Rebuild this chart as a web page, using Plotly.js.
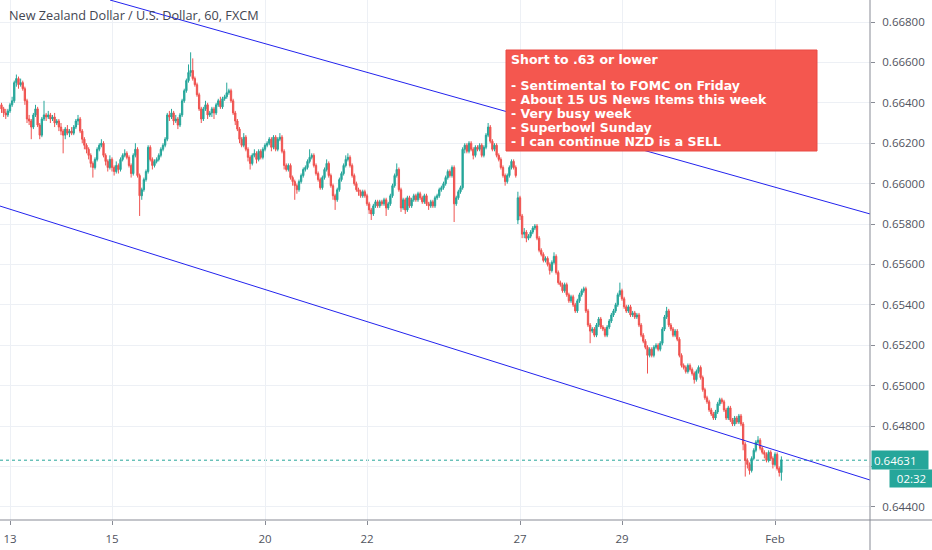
<!DOCTYPE html>
<html>
<head>
<meta charset="utf-8">
<script src="https://cdn.plot.ly/plotly-3.0.1.min.js"></script>
<style>
html,body{margin:0;padding:0;background:#fff;}
#chart{width:932px;height:550px;}
</style>
</head>
<body>
<div id="chart"></div>
<script>
// NZD/USD, 60 min candles (prices in pips: 6637 = 0.6637)
const openPips = [
6639,6637,6635,6634,6636,6639,6641,6650,6652,6649,
6650,6647,6641,6632,6631,6628,6634,6637,6629,6624,
6632,6634,6633,6634,6632,6633,6630,6631,6628,6626,
6624,6627,6625,6626,6625,6628,6631,6632,6626,6622,
6619,6617,6614,6610,6608,6612,6617,6619,6620,6614,
6611,6608,6612,6608,6606,6609,6607,6612,6614,6615,
6613,6609,6605,6614,6617,6604,6594,6597,6602,6606,
6618,6612,6609,6611,6612,6614,6617,6619,6622,6634,
6633,6635,6631,6632,6629,6634,6641,6646,6651,6655,
6656,6652,6649,6644,6637,6632,6637,6639,6634,6635,
6637,6635,6639,6641,6638,6642,6643,6645,6646,6641,
6635,6631,6627,6622,6619,6623,6617,6613,6610,6614,
6615,6612,6616,6613,6617,6619,6620,6622,6618,6623,
6617,6622,6623,6616,6609,6607,6609,6603,6601,6599,
6597,6601,6604,6607,6608,6611,6613,6614,6609,6605,
6602,6598,6603,6607,6610,6604,6599,6594,6592,6597,
6602,6605,6609,6612,6613,6609,6604,6600,6597,6596,
6594,6596,6594,6590,6587,6585,6589,6591,6589,6591,
6590,6592,6588,6590,6594,6599,6604,6607,6597,6588,
6592,6587,6593,6589,6592,6594,6592,6595,6593,6591,
6594,6590,6589,6591,6589,6593,6594,6597,6598,6600,
6603,6606,6604,6608,6590,6593,6596,6598,6617,6619,
6616,6620,6617,6614,6618,6617,6619,6614,6618,6624,
6628,6621,6617,6619,6614,6612,6608,6604,6601,6604,
6608,6611,6608,6582,6593,6584,6575,6576,6573,6574,
6576,6578,6579,6573,6567,6565,6562,6563,6560,6557,
6561,6564,6556,6551,6550,6547,6550,6545,6542,6544,
6540,6537,6542,6545,6547,6548,6537,6530,6527,6528,
6525,6530,6533,6529,6528,6525,6529,6532,6535,6537,
6540,6545,6547,6543,6539,6537,6539,6535,6536,6534,
6535,6530,6525,6522,6519,6515,6518,6515,6519,6520,
6518,6521,6528,6534,6537,6530,6528,6525,6527,6523,
6515,6510,6509,6507,6510,6508,6506,6503,6507,6509,
6504,6498,6494,6492,6488,6486,6484,6487,6491,6493,
6492,6488,6484,6489,6483,6481,6484,6482,6485,6481,
6471,6463,6461,6458,6464,6468,6472,6473,6469,6467,
6466,6463,6467,6464,6461,6466,6459,6457];
const highPips = [
6640,6638,6637,6637,6640,6643,6651,6654,6653,6652,
6651,6648,6642,6634,6632,6635,6639,6638,6630,6633,
6641,6635,6636,6635,6634,6635,6632,6632,6630,6627,
6628,6629,6627,6628,6629,6632,6634,6633,6627,6623,
6620,6618,6615,6611,6613,6618,6620,6622,6621,6615,
6612,6614,6613,6609,6611,6610,6613,6615,6617,6616,
6614,6610,6615,6620,6618,6605,6598,6603,6607,6619,
6619,6613,6612,6613,6615,6618,6620,6623,6635,6636,
6637,6636,6634,6633,6635,6642,6647,6652,6659,6665,
6662,6653,6650,6645,6638,6638,6641,6640,6636,6638,
6638,6640,6642,6643,6643,6644,6650,6647,6647,6642,
6636,6632,6628,6623,6625,6624,6618,6614,6615,6617,
6616,6617,6617,6618,6620,6621,6623,6623,6624,6624,
6623,6625,6624,6617,6610,6610,6610,6604,6602,6600,
6602,6605,6608,6609,6612,6617,6615,6615,6610,6606,
6603,6604,6608,6612,6611,6605,6600,6595,6598,6603,
6606,6610,6614,6615,6614,6610,6605,6601,6598,6597,
6597,6597,6595,6591,6588,6590,6592,6592,6592,6592,
6593,6593,6591,6595,6600,6605,6610,6608,6598,6593,
6593,6594,6594,6593,6595,6595,6596,6596,6594,6595,
6595,6591,6592,6592,6594,6595,6598,6599,6601,6604,
6607,6607,6609,6609,6594,6597,6599,6618,6620,6620,
6621,6621,6618,6619,6619,6620,6620,6619,6625,6630,
6629,6622,6620,6620,6615,6613,6609,6605,6605,6609,
6612,6612,6609,6596,6594,6585,6578,6577,6575,6577,
6579,6580,6580,6574,6568,6566,6564,6564,6561,6562,
6566,6565,6557,6552,6551,6551,6551,6546,6545,6545,
6541,6543,6546,6548,6549,6549,6538,6531,6529,6529,
6531,6534,6534,6530,6529,6530,6533,6536,6538,6541,
6546,6551,6548,6544,6540,6540,6540,6537,6537,6536,
6536,6531,6526,6523,6520,6519,6519,6520,6521,6521,
6522,6529,6535,6539,6538,6531,6529,6528,6528,6524,
6516,6511,6510,6511,6511,6509,6507,6508,6510,6510,
6505,6499,6495,6493,6489,6487,6488,6492,6494,6494,
6493,6489,6490,6490,6484,6485,6485,6486,6486,6482,
6472,6464,6462,6465,6469,6473,6475,6474,6470,6468,
6467,6468,6468,6465,6467,6467,6460,6465];
const lowPips = [
6635,6633,6632,6633,6635,6638,6640,6648,6647,6648,
6646,6639,6630,6629,6622,6627,6633,6628,6622,6623,
6631,6631,6632,6630,6631,6628,6629,6626,6624,6615,
6622,6624,6623,6624,6624,6627,6629,6625,6620,6617,
6615,6612,6608,6603,6607,6611,6616,6618,6613,6609,
6606,6607,6606,6604,6605,6605,6606,6611,6613,6612,
6608,6603,6604,6613,6603,6584,6592,6596,6601,6605,
6611,6607,6608,6610,6611,6613,6616,6618,6621,6631,
6632,6629,6630,6627,6628,6633,6640,6645,6650,6653,
6651,6648,6643,6636,6630,6631,6636,6632,6633,6633,
6632,6634,6638,6637,6637,6641,6642,6644,6640,6634,
6629,6626,6620,6618,6618,6616,6611,6607,6609,6613,
6610,6611,6612,6612,6616,6618,6619,6616,6617,6616,
6616,6621,6615,6607,6606,6606,6602,6599,6592,6595,
6596,6600,6603,6606,6607,6610,6612,6608,6604,6601,
6597,6597,6602,6606,6603,6598,6592,6587,6591,6596,
6601,6604,6608,6611,6608,6603,6599,6596,6594,6593,
6593,6593,6589,6585,6582,6584,6588,6588,6588,6589,
6589,6584,6587,6589,6593,6598,6603,6596,6586,6587,
6585,6586,6588,6588,6591,6591,6591,6592,6590,6590,
6589,6587,6588,6588,6588,6592,6593,6596,6597,6599,
6602,6603,6603,6581,6589,6592,6595,6597,6615,6615,
6615,6616,6612,6613,6616,6616,6613,6613,6617,6623,
6620,6616,6616,6613,6611,6607,6603,6599,6600,6603,
6607,6607,6603,6580,6582,6573,6573,6571,6572,6573,
6575,6577,6572,6566,6564,6561,6561,6559,6555,6556,
6560,6555,6550,6549,6546,6546,6544,6541,6541,6539,
6536,6536,6541,6544,6546,6536,6529,6521,6526,6524,
6524,6529,6528,6527,6524,6524,6528,6531,6534,6536,
6539,6544,6542,6538,6536,6536,6534,6534,6533,6533,
6529,6524,6521,6518,6506,6514,6514,6514,6518,6517,
6517,6520,6527,6533,6529,6527,6524,6524,6522,6514,
6509,6508,6506,6506,6507,6505,6501,6502,6506,6503,
6497,6493,6491,6487,6485,6483,6483,6486,6490,6491,
6487,6483,6483,6482,6480,6480,6481,6481,6480,6468,
6455,6459,6456,6457,6463,6467,6471,6468,6466,6464,
6462,6462,6463,6459,6460,6458,6455,6453];
const closePips = [
6637,6635,6634,6636,6639,6641,6650,6652,6649,6650,
6647,6641,6632,6631,6628,6634,6637,6629,6624,6632,
6634,6633,6634,6632,6633,6630,6631,6628,6626,6624,
6627,6625,6626,6625,6628,6631,6632,6626,6622,6619,
6617,6614,6610,6608,6612,6617,6619,6620,6614,6611,
6608,6612,6608,6606,6609,6607,6612,6614,6615,6613,
6609,6605,6614,6617,6604,6594,6597,6602,6606,6618,
6612,6609,6611,6612,6614,6617,6619,6622,6634,6633,
6635,6631,6632,6629,6634,6641,6646,6651,6655,6656,
6652,6649,6644,6637,6632,6637,6639,6634,6635,6637,
6635,6639,6641,6638,6642,6643,6645,6646,6641,6635,
6631,6627,6622,6619,6623,6617,6613,6610,6614,6615,
6612,6616,6613,6617,6619,6620,6622,6618,6623,6617,
6622,6623,6616,6609,6607,6609,6603,6601,6599,6597,
6601,6604,6607,6608,6611,6613,6614,6609,6605,6602,
6598,6603,6607,6610,6604,6599,6594,6592,6597,6602,
6605,6609,6612,6613,6609,6604,6600,6597,6596,6594,
6596,6594,6590,6587,6585,6589,6591,6589,6591,6590,
6592,6588,6590,6594,6599,6604,6607,6597,6588,6592,
6587,6593,6589,6592,6594,6592,6595,6593,6591,6594,
6590,6589,6591,6589,6593,6594,6597,6598,6600,6603,
6606,6604,6608,6590,6593,6596,6598,6617,6619,6616,
6620,6617,6614,6618,6617,6619,6614,6618,6624,6628,
6621,6617,6619,6614,6612,6608,6604,6601,6604,6608,
6611,6608,6604,6593,6584,6575,6576,6573,6574,6576,
6578,6579,6573,6567,6565,6562,6563,6560,6557,6561,
6564,6556,6551,6550,6547,6550,6545,6542,6544,6540,
6537,6542,6545,6547,6548,6537,6530,6527,6528,6525,
6530,6533,6529,6528,6525,6529,6532,6535,6537,6540,
6545,6547,6543,6539,6537,6539,6535,6536,6534,6535,
6530,6525,6522,6519,6515,6518,6515,6519,6520,6518,
6521,6528,6534,6537,6530,6528,6525,6527,6523,6515,
6510,6509,6507,6510,6508,6506,6503,6507,6509,6504,
6498,6494,6492,6488,6486,6484,6487,6491,6493,6492,
6488,6484,6489,6483,6481,6484,6482,6485,6481,6471,
6463,6461,6458,6464,6468,6472,6473,6469,6467,6466,
6463,6467,6464,6461,6466,6459,6457,6463.1];

// time axis: candle index of each labelled day
const dayTickIndex = [4, 52, 124, 172, 244, 292, 364];
const dayTickText = ['13', '15', '20', '22', '27', '29', 'Feb'];
// price axis ticks
const priceTicks = [0.644, 0.646, 0.648, 0.650, 0.652, 0.654, 0.656, 0.658, 0.660, 0.662, 0.664, 0.666, 0.668];
const hiddenTick = 0.646;
// user-drawn trend lines (candle index, price)
const upperLineX = [51.06, 408.7];
const upperLineY = [0.66909, 0.65850];
const lowerLineX = [-0.7, 408.7];
const lowerLineY = [0.65889, 0.64533];
// last price & countdown
const lastPrice = 0.64631;
const countdown = '02:32';
const chartTitle = 'New Zealand Dollar / U.S. Dollar, 60, FXCM';
const noteLines = [
  'Short to .63 or lower',
  '- Sentimental to FOMC on Friday',
  '- About 15 US News Items this week',
  '- Very busy week',
  '- Superbowl Sunday',
  '- I can continue NZD is a SELL'
];

const toPrice = v => v / 10000;
const idx = closePips.map((_, i) => i);

const W = 870, H = 520; // plot area size in px
const px = x => x / W;
const py = y => 1 - y / H;

const candle = {
  type: 'candlestick',
  x: idx,
  open: openPips.map(toPrice),
  high: highPips.map(toPrice),
  low: lowPips.map(toPrice),
  close: closePips.map(toPrice),
  increasing: {line: {color: '#26a69a', width: 1}, fillcolor: '#26a69a'},
  decreasing: {line: {color: '#ef5350', width: 1}, fillcolor: '#ef5350'},
  whiskerwidth: 0,
  hoverinfo: 'skip'
};
const upper = {type: 'scatter', mode: 'lines', x: upperLineX, y: upperLineY,
  line: {color: '#2323ee', width: 1}, hoverinfo: 'skip'};
const lower = {type: 'scatter', mode: 'lines', x: lowerLineX, y: lowerLineY,
  line: {color: '#2323ee', width: 1}, hoverinfo: 'skip'};

const tickFont = {family: 'Open Sans, sans-serif', size: 11.5, color: '#50535e'};
const axisGray = '#888b95';

const noteY = [59, 86, 99.8, 113.6, 127.4, 141.2];
const annotations = [
  {xref: 'paper', yref: 'paper', x: px(7), y: py(15), xanchor: 'left', yanchor: 'middle',
   text: chartTitle, showarrow: false, font: {family: 'Open Sans, sans-serif', size: 12.7, color: '#434651'}},
  {xref: 'paper', yref: 'y', x: 1, y: lastPrice, xanchor: 'left', yanchor: 'middle',
   text: lastPrice.toFixed(5), showarrow: false, align: 'left', width: 52, height: 14, borderpad: 2,
   bgcolor: '#26a69a', font: {family: 'Open Sans, sans-serif', size: 11.5, color: '#ffffff'}, xshift: 1},
  {xref: 'paper', yref: 'paper', x: 1, y: py(478), xanchor: 'left', yanchor: 'middle',
   text: countdown, showarrow: false, align: 'center', width: 39, height: 13, borderpad: 2,
   bgcolor: '#26a69a', font: {family: 'Open Sans, sans-serif', size: 11.5, color: '#ffffff'}, xshift: 19}
];
noteLines.forEach((t, i) => {
  annotations.push({xref: 'paper', yref: 'paper', x: px(509), y: py(noteY[i]), xanchor: 'left', yanchor: 'middle',
    text: '<b>' + t + '</b>', showarrow: false,
    font: {family: 'DejaVu Sans, Verdana, sans-serif', size: 12.5, color: '#ffffff'}});
});

const layout = {
  width: 932, height: 550,
  margin: {l: 0, r: 62, t: 0, b: 30, pad: 0},
  paper_bgcolor: '#ffffff', plot_bgcolor: '#ffffff',
  showlegend: false,
  boxgap: 0.12,
  xaxis: {
    range: [-0.706, 408.7], tickmode: 'array', tickvals: dayTickIndex, ticktext: dayTickText,
    showgrid: true, gridcolor: '#edf0f5', gridwidth: 1, zeroline: false, showline: false,
    ticks: 'outside', ticklen: 4, tickcolor: axisGray, tickfont: tickFont, ticklabelstandoff: 4,
    rangeslider: {visible: false}, fixedrange: true
  },
  yaxis: {
    side: 'right', range: [0.64335, 0.66909], tickmode: 'array', tickvals: priceTicks,
    ticktext: priceTicks.map(v => v === hiddenTick ? '' : v.toFixed(5)),
    showgrid: true, gridcolor: '#edf0f5', gridwidth: 1, zeroline: false, showline: false,
    ticks: 'outside', ticklen: 4, tickcolor: axisGray, tickfont: tickFont, ticklabelstandoff: 5,
    fixedrange: true
  },
  shapes: [
    {type: 'line', xref: 'paper', yref: 'y', x0: 0, x1: 1, y0: lastPrice, y1: lastPrice,
     line: {color: '#26a69a', width: 1, dash: 'dot'}, layer: 'below'},
    {type: 'rect', xref: 'paper', yref: 'paper', x0: px(506), x1: px(817), y0: py(151), y1: py(50),
     fillcolor: '#f4574f', line: {color: '#ea4a44', width: 1}, layer: 'above'},
    {type: 'line', xref: 'paper', yref: 'paper', x0: 1, x1: 1, y0: py(550), y1: 1,
     line: {color: axisGray, width: 1}},
    {type: 'line', xref: 'paper', yref: 'paper', x0: 0, x1: px(932), y0: 0, y1: 0,
     line: {color: axisGray, width: 1}}
  ],
  annotations: annotations
};

Plotly.newPlot('chart', [candle, upper, lower], layout, {displayModeBar: false, staticPlot: true});
</script>
</body>
</html>
